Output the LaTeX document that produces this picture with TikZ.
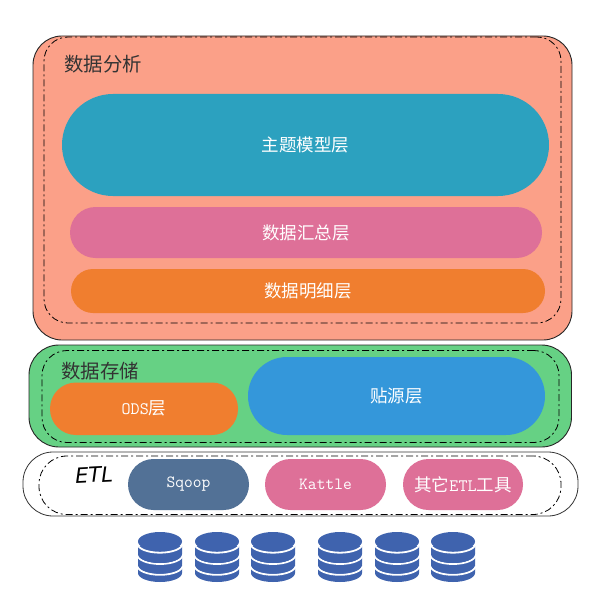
\documentclass[tikz,border=0pt]{standalone}
\usepackage{fontspec}
\newfontfamily\cjk{Noto Sans CJK SC}[Scale=1]
\newfontfamily\hand{DejaVu Sans}[Scale=1]
\definecolor{salmon}{HTML}{FBA088}
\definecolor{grn}{HTML}{66D184}
\definecolor{teal2}{HTML}{2CA1BF}
\definecolor{pink2}{HTML}{DE7098}
\definecolor{orng}{HTML}{F07E2F}
\definecolor{blu}{HTML}{3497DA}
\definecolor{slate}{HTML}{527196}
\definecolor{cyl}{HTML}{3F63AE}
\tikzset{
  box/.style={inner sep=0pt,outer sep=0pt,align=center,text=white,font=\ttfamily\fontsize{17.5}{20}\selectfont},
  panel/.style={draw=black!85,line width=0.9pt},
  inner line/.style={draw=black,line width=0.8pt,dash pattern=on 7pt off 3pt on 2pt off 3pt},
  title/.style={inner sep=0pt,text=black!80,font=\cjk\fontsize{19.4}{21}\selectfont},
}
% name, left, top, right, bottom, radius, style, text
\newcommand{\rbox}[8]{%
  \pgfmathsetmacro{\bw}{#4-#2}\pgfmathsetmacro{\bh}{#5-#3}%
  \pgfmathsetmacro{\bx}{(#2+#4)/2}\pgfmathsetmacro{\by}{(#3+#5)/2}%
  \node[box,rectangle,rounded corners=#6pt,minimum width=\bw pt,minimum height=\bh pt,#7] (#1) at (\bx,\by) {#8};%
}
\begin{document}
\begin{tikzpicture}[x=1pt,y=-1pt]
\useasboundingbox[fill=white] (0,0) rectangle (607,607);
% analysis
\rbox{analysis}{33}{36}{572}{340}{29}{panel,fill=salmon}{}
\rbox{analysisin}{44}{37}{561}{323}{24}{inner line}{}
\node[title] (analysistitle) at (103,64) {数据分析};
\rbox{topic}{62}{94}{549}{196}{51}{fill=teal2}{\cjk 主题模型层}
\rbox{summary}{70}{207}{542}{258}{25.5}{fill=pink2}{\cjk 数据汇总层}
\rbox{detail}{71}{269}{545}{313}{22}{fill=orng}{\cjk 数据明细层}
% storage
\rbox{storage}{29}{345}{571.5}{447}{30}{panel,fill=grn}{}
\rbox{storagein}{42}{350.5}{559}{442.5}{25}{inner line}{}
\node[title] (storagetitle) at (100,371) {数据存储};
\rbox{ods}{50}{382.5}{238}{435}{26}{fill=orng}{ODS{\cjk 层}}
\rbox{source}{248}{357}{545}{435}{39}{fill=blu}{\cjk 贴源层}
% etl
\rbox{etl}{23}{452}{578}{516}{30}{draw=black!80,line width=0.8pt,fill=white}{}
\rbox{etlin}{39}{456}{561}{514.5}{28}{inner line}{}
\node[inner sep=0pt,text=black,rotate=3,font=\hand\itshape\fontsize{21}{24}\selectfont] (etltitle) at (94,475) {ETL};
\rbox{sqoop}{128}{459}{249}{510}{25.5}{fill=slate,font=\ttfamily\fontsize{17}{20}\selectfont}{Sqoop}
\rbox{kattle}{265}{459}{386}{510}{25.5}{fill=pink2,font=\ttfamily\fontsize{17}{20}\selectfont}{Kattle}
\rbox{other}{403}{459}{523}{510}{25.5}{fill=pink2,font=\ttfamily\fontsize{17.5}{20}\selectfont}{{\cjk 其它}ETL{\cjk 工具}}
% databases
\foreach \cx in {160,217,273,340,397,453}{
  \foreach \cy/\wy in {573/565.8,564.5/555,554/543.7}{
    \fill[cyl] (\cx-22,\cy-8) -- (\cx-22,\cy) arc[start angle=180,end angle=360,x radius=22,y radius=-9] -- (\cx+22,\cy-8) -- cycle;
    \draw[white,line width=1.8pt] (\cx-22.5,\wy) arc[start angle=180,end angle=360,x radius=22.5,y radius=-9];
  }
  \fill[cyl] (\cx,541.5) ellipse[x radius=22,y radius=9.5];
}
\end{tikzpicture}
\end{document}
